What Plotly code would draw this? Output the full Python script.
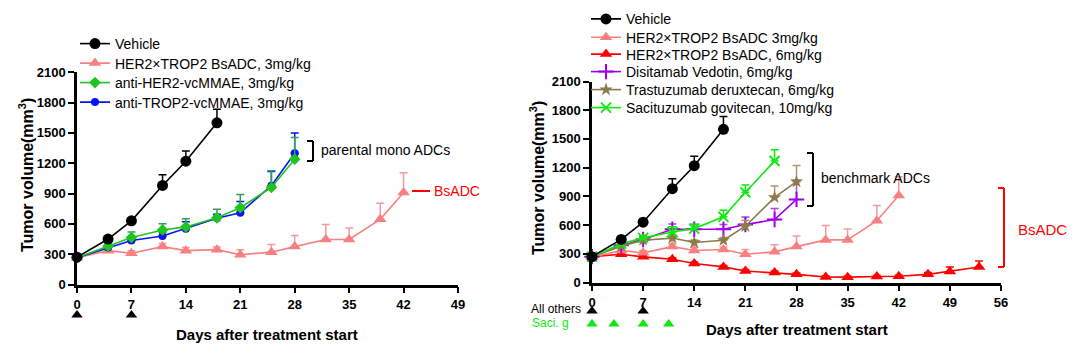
import plotly.graph_objects as go

W, H = 1080, 358

# ---------------- data ----------------
# left panel
days_vehicle = [0, 4, 7, 11, 14, 18]
vehicle = [270, 450, 630, 980, 1220, 1600]
vehicle_err = [10, 25, 30, 105, 100, 135]

days_bs3 = [0, 4, 7, 11, 14, 18, 21, 25, 28, 32, 35, 39, 42]
bs3 = [265, 335, 310, 375, 335, 345, 295, 320, 375, 445, 445, 645, 910]
bs3_err = [10, 30, 25, 30, 30, 25, 50, 75, 110, 150, 115, 160, 195]

days_mono = [0, 4, 7, 11, 14, 18, 21, 25, 28]
her2_mmae = [265, 380, 465, 540, 570, 660, 760, 960, 1240]
her2_mmae_err = [10, 30, 55, 60, 80, 85, 130, 165, 215]
trop2_mmae = [265, 365, 435, 480, 552, 655, 711, 978, 1299]
trop2_mmae_err = [10, 20, 30, 40, 70, 40, 110, 140, 200]

# right panel
days_bs6 = [0, 4, 7, 11, 14, 18, 21, 25, 28, 32, 35, 39, 42, 46, 49, 53]
bs6 = [270, 295, 268, 243, 198, 163, 120, 104, 85, 58, 56, 62, 66, 85, 115, 162]
bs6_err = [10, 15, 15, 15, 15, 15, 15, 15, 15, 10, 10, 10, 10, 20, 46, 63]

days_dv = [0, 4, 7, 11, 14, 18, 21, 25, 28]
disitamab = [270, 390, 450, 556, 556, 556, 605, 658, 868]
disitamab_err = [10, 20, 30, 55, 50, 50, 80, 115, 200]
trastuzumab = [270, 380, 442, 464, 418, 441, 588, 889, 1053]
trastuzumab_err = [10, 20, 25, 30, 25, 30, 60, 120, 170]

days_sg = [0, 4, 7, 11, 14, 18, 21, 25]
sacituzumab = [270, 405, 466, 528, 563, 686, 942, 1270]
sacituzumab_err = [10, 20, 25, 55, 45, 70, 76, 116]

dose_days_left = [0, 7]
dose_days_all_others = [0, 7]
dose_days_saci = [0, 3, 7, 10.5]

left_x_ticks = [0, 7, 14, 21, 28, 35, 42, 49]
right_x_ticks = [0, 7, 14, 21, 28, 35, 42, 49, 56]
y_ticks = [0, 300, 600, 900, 1200, 1500, 1800, 2100]

# ---------------- styling ----------------
FONT = "Arial, Liberation Sans, sans-serif"
BLACK = "#000000"
PINK = "#F88080"
GREEN = "#1FC41F"
BLUE = "#0A14F0"
RED = "#FF0000"
PURPLE = "#A000E8"
OLIVE = "#8C7A4A"
SGREEN = "#11E811"


def px(x):
    return x / W


def py(y):
    return 1 - y / H


fig = go.Figure()


def add_series(x, y, err, name, color, symbol, size, xa, ya, legend,
               err_color=None, thin=False, lw=1.6):
    marker = dict(color=color, symbol=symbol, size=size)
    if thin:
        marker["line"] = dict(color=color, width=2)
    fig.add_trace(go.Scatter(
        x=x, y=y, name=name, mode="lines+markers",
        line=dict(color=color, width=lw), marker=marker,
        error_y=dict(type="data", array=err, arrayminus=[0] * len(err),
                     symmetric=False, color=err_color or color,
                     thickness=1.5, width=4),
        xaxis=xa, yaxis=ya, cliponaxis=False, legend=legend))


# left panel
add_series(days_bs3, bs3, bs3_err, "HER2×TROP2 BsADC, 3mg/kg", PINK,
           "triangle-up", 11, "x", "y", "legend2", err_color="#F59A9A")
add_series(days_mono, trop2_mmae, trop2_mmae_err, "anti-TROP2-vcMMAE, 3mg/kg",
           BLUE, "circle", 8, "x", "y", "legend4")
add_series(days_mono, her2_mmae, her2_mmae_err, "anti-HER2-vcMMAE, 3mg/kg",
           GREEN, "diamond", 9, "x", "y", "legend3", err_color="#2E9E5A")
add_series(days_vehicle, vehicle, vehicle_err, "Vehicle", BLACK, "circle", 11,
           "x", "y", "legend")

# right panel
add_series(days_bs6, bs6, bs6_err, "HER2×TROP2 BsADC, 6mg/kg", RED,
           "triangle-up", 11, "x2", "y2", "legend7")
add_series(days_bs3, bs3, bs3_err, "HER2×TROP2 BsADC 3mg/kg", PINK,
           "triangle-up", 11, "x2", "y2", "legend6", err_color="#F59A9A")
add_series(days_dv, disitamab, disitamab_err, "Disitamab Vedotin, 6mg/kg",
           PURPLE, "cross-thin", 11, "x2", "y2", "legend8", thin=True,
           err_color="#B040F0")
add_series(days_dv, trastuzumab, trastuzumab_err,
           "Trastuzumab deruxtecan, 6mg/kg", OLIVE, "star", 10, "x2", "y2",
           "legend9", err_color="#A89868")
add_series(days_sg, sacituzumab, sacituzumab_err,
           "Sacituzumab govitecan, 10mg/kg", SGREEN, "x-thin", 10, "x2", "y2",
           "legend10", thin=True)
add_series(days_vehicle, vehicle, vehicle_err, "Vehicle", BLACK, "circle", 11,
           "x2", "y2", "legend5")

# dosing triangles on lane axes below the x axes (lane 0 = bottom, 1 = top)
fig.add_trace(go.Scatter(x=dose_days_left, y=[0.5] * len(dose_days_left),
                         mode="markers", marker=dict(symbol="triangle-up", size=10, color=BLACK),
                         xaxis="x", yaxis="y3", cliponaxis=False, showlegend=False))
fig.add_trace(go.Scatter(x=dose_days_all_others, y=[0.76] * len(dose_days_all_others),
                         mode="markers", marker=dict(symbol="triangle-up", size=10, color=BLACK),
                         xaxis="x2", yaxis="y4", cliponaxis=False, showlegend=False))
fig.add_trace(go.Scatter(x=dose_days_saci, y=[0.24] * len(dose_days_saci),
                         mode="markers", marker=dict(symbol="triangle-up", size=10, color=SGREEN),
                         xaxis="x2", yaxis="y4", cliponaxis=False, showlegend=False))

axis_common = dict(showline=True, linewidth=2.5, linecolor=BLACK, ticks="outside",
                   ticklen=6, tickwidth=2, tickcolor=BLACK, showgrid=False,
                   zeroline=False, tickfont=dict(family=FONT, size=13, color=BLACK, weight="bold"))

layout = dict(
    width=W, height=H, margin=dict(l=0, r=0, t=0, b=0, autoexpand=False),
    paper_bgcolor="white", plot_bgcolor="white",
    font=dict(family=FONT, color=BLACK),
    xaxis=dict(domain=[px(77), px(458)], range=[0, 49], tickvals=left_x_ticks,
               anchor="y", **axis_common),
    yaxis=dict(domain=[py(284.5), py(72.3)], range=[0, 2100], tickvals=y_ticks,
               anchor="x", **axis_common),
    xaxis2=dict(domain=[px(592), px(1001)], range=[0, 56], tickvals=right_x_ticks,
                anchor="y2", **axis_common),
    yaxis2=dict(domain=[py(282.5), py(81.5)], range=[0, 2100], tickvals=y_ticks,
                anchor="x2", **axis_common),
    yaxis3=dict(domain=[py(330), py(300)], range=[0, 1], visible=False, anchor="x"),
    yaxis4=dict(domain=[py(330), py(305)], range=[0, 1], visible=False, anchor="x2"),
    showlegend=True,
)

# one legend per entry for exact row placement
legend_rows = {
    "legend": (75, 44), "legend2": (75, 63.5), "legend3": (75, 83), "legend4": (75, 102.5),
    "legend5": (586, 19.3), "legend6": (586, 37.7), "legend7": (586, 54.5),
    "legend8": (586, 72), "legend9": (586, 90), "legend10": (586, 108),
}
for key, (lx, ly) in legend_rows.items():
    layout[key] = dict(x=px(lx), y=py(ly), xanchor="left", yanchor="middle",
                       bgcolor="rgba(0,0,0,0)", borderwidth=0,
                       font=dict(family=FONT, size=14, color=BLACK),
                       itemclick=False, itemdoubleclick=False)

fig.update_layout(**layout)

# axis titles
for (x, y) in [(267, 334), (797, 329)]:
    fig.add_annotation(x=px(x), y=py(y), xref="paper", yref="paper",
                       text="Days after treatment start", showarrow=False,
                       font=dict(family=FONT, size=15, weight="bold"),
                       xanchor="center", yanchor="middle")
for (x, y) in [(26, 175), (537, 178)]:
    fig.add_annotation(x=px(x), y=py(y), xref="paper", yref="paper",
                       text="Tumor volume(mm<sup>3</sup>)", showarrow=False, textangle=-90,
                       font=dict(family=FONT, size=16, weight="bold"),
                       xanchor="center", yanchor="middle")

# brackets and labels
def line(x0, y0, x1, y1, color):
    fig.add_shape(type="line", xref="paper", yref="paper",
                  x0=px(x0), y0=py(y0), x1=px(x1), y1=py(y1),
                  line=dict(color=color, width=2))


def bracket(xl, xr, yt, yb, color):
    line(xr, yt, xr, yb, color)
    line(xl, yt, xr, yt, color)
    line(xl, yb, xr, yb, color)


bracket(307, 313, 141, 161, BLACK)
line(412, 191, 430, 191, RED)
bracket(807, 813, 153, 206, BLACK)
bracket(998, 1004, 188, 267, RED)

def label(x, y, text, color=BLACK, size=14, xanchor="left"):
    fig.add_annotation(x=px(x), y=py(y), xref="paper", yref="paper", text=text,
                       showarrow=False, xanchor=xanchor, yanchor="middle",
                       font=dict(family=FONT, size=size, color=color))


label(319, 150, "parental mono ADCs")
label(432, 191, "BsADC", RED)
label(819, 178, "benchmark ADCs")
label(1016, 229, "BsADC", RED, size=15)
label(583, 309, "All others", BLACK, 12, "right")
label(530, 323, "Saci. g", SGREEN, 12, "left")

fig.write_html("out.html", config={"displayModeBar": False},
               post_script="document.body.style.margin='0';document.body.style.overflow='hidden';")
